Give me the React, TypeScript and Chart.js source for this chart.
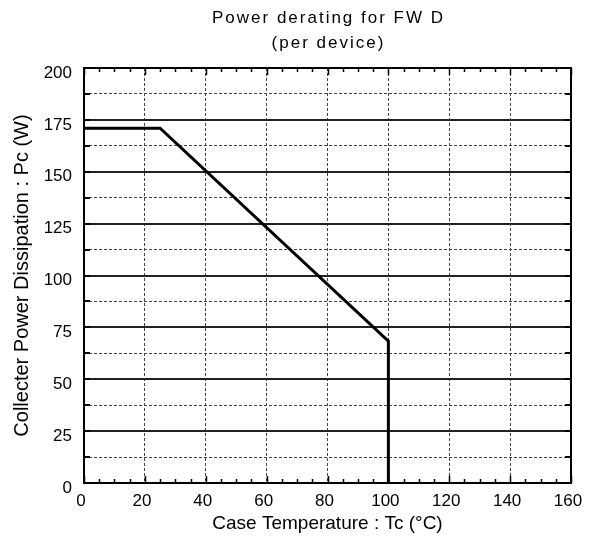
import React, { useEffect, useRef } from "react";
import { Chart, registerables } from "chart.js";

Chart.register(...registerables);

const titleLines = ["Power derating for FW D", "(per device)"];
const xTitle = "Case Temperature : Tc (°C)";
const yTitle = "Collecter Power Dissipation : Pc (W)";
const tempC = [0, 25, 100, 100];
const powerW = [171, 171, 68.4, 0];
const xMin = 0, xMax = 160, xStep = 20, xMinorStep = 5;
const yMin = 0, yMax = 200, yStep = 25, yMinorStep = 12.5;

const FONT = "'Liberation Sans', Arial, sans-serif";

const framePlugin = {
  id: "frameTicks",
  afterDraw(chart: any) {
    const { ctx, chartArea: a, scales } = chart;
    const xs = scales.x, ys = scales.y;
    ctx.save();
    ctx.strokeStyle = "#000";
    ctx.lineWidth = 1.5;
    for (let v = xMin; v <= xMax + 1e-9; v += xMinorStep) {
      const px = Math.round(xs.getPixelForValue(v)) + 0.5;
      const len = v % xStep === 0 ? 7 : 4;
      ctx.beginPath();
      ctx.moveTo(px, a.bottom);
      ctx.lineTo(px, a.bottom - len);
      ctx.moveTo(px, a.top);
      ctx.lineTo(px, a.top + len);
      ctx.stroke();
    }
    ctx.lineWidth = 2;
    for (let v = yMin; v <= yMax + 1e-9; v += yMinorStep) {
      const py = Math.round(ys.getPixelForValue(v));
      ctx.beginPath();
      ctx.moveTo(a.left, py);
      ctx.lineTo(a.left + 6, py);
      ctx.moveTo(a.right, py);
      ctx.lineTo(a.right - 6, py);
      ctx.stroke();
    }
    ctx.lineWidth = 2;
    ctx.strokeRect(a.left, a.top, a.right - a.left, a.bottom - a.top);
    // title
    ctx.fillStyle = "#000";
    ctx.font = `17px ${FONT}`;
    (ctx as any).letterSpacing = "2px";
    ctx.textAlign = "center";
    ctx.textBaseline = "alphabetic";
    const cx = (a.left + a.right) / 2 + 1;
    ctx.fillText(titleLines[0], cx, 23);
    ctx.fillText(titleLines[1], cx, 48);
    (ctx as any).letterSpacing = "0px";
    ctx.restore();
  },
};

export default function App() {
  const ref = useRef<HTMLCanvasElement>(null);
  useEffect(() => {
    document.body.style.margin = "0";
    const canvas = ref.current!;
    const chart = new Chart(canvas, {
      type: "line",
      data: {
        datasets: [
          {
            data: tempC.map((x, i) => ({ x, y: powerW[i] })),
            borderColor: "#000",
            borderWidth: 3,
            pointRadius: 0,
            tension: 0,
            fill: false,
          },
        ],
      },
      options: {
        animation: false,
        responsive: false,
        devicePixelRatio: 1,
        layout: { padding: { top: 68, right: 26, left: 0, bottom: 0 } },
        plugins: { legend: { display: false }, tooltip: { enabled: false }, title: { display: false } },
        scales: {
          x: {
            type: "linear",
            min: xMin,
            max: xMax,
            afterFit: (s: any) => { s.height = 59; },
            ticks: {
              stepSize: xStep,
              color: "#000",
              font: { family: FONT, size: 17 },
              padding: 8,
              labelOffset: -3,
              maxRotation: 0,
            },
            grid: {
              drawTicks: false,
              color: (c: any) => (c.tick && (c.tick.value === xMin || c.tick.value === xMax) ? "rgba(0,0,0,0)" : "#444"),
              lineWidth: 1,
            },
            border: { display: false, dash: [3, 2] },
            title: {
              display: true,
              text: xTitle,
              color: "#000",
              font: { family: FONT, size: 19 },
              padding: { top: 0, bottom: 7 },
            },
          },
          y: {
            type: "linear",
            min: yMin,
            max: yMax,
            afterFit: (s: any) => { s.width = 84; },
            ticks: {
              stepSize: yMinorStep,
              color: "#000",
              font: { family: FONT, size: 17 },
              padding: 12,
              labelOffset: 5,
              callback: (v: any) => (Number(v) % yStep === 0 ? String(v) : ""),
            },
            grid: {
              drawTicks: false,
              color: (c: any) => {
                const v = c.tick ? c.tick.value : 0;
                if (v === yMin || v === yMax) return "rgba(0,0,0,0)";
                return v % yStep === 0 ? "#222" : "#444";
              },
              lineWidth: (c: any) => (c.tick && c.tick.value % yStep === 0 ? 2 : 1),
            },
            border: {
              display: false,
              dash: (c: any) => (c.tick && c.tick.value % yStep !== 0 ? [3, 2] : []),
            },
            title: {
              display: true,
              text: yTitle,
              color: "#000",
              font: { family: FONT, size: 20 },
              padding: { top: 10, bottom: 0 },
            },
          },
        },
      },
      plugins: [framePlugin],
    });
    return () => chart.destroy();
  }, []);
  return <canvas ref={ref} width={597} height={542} style={{ display: "block" }} />;
}
